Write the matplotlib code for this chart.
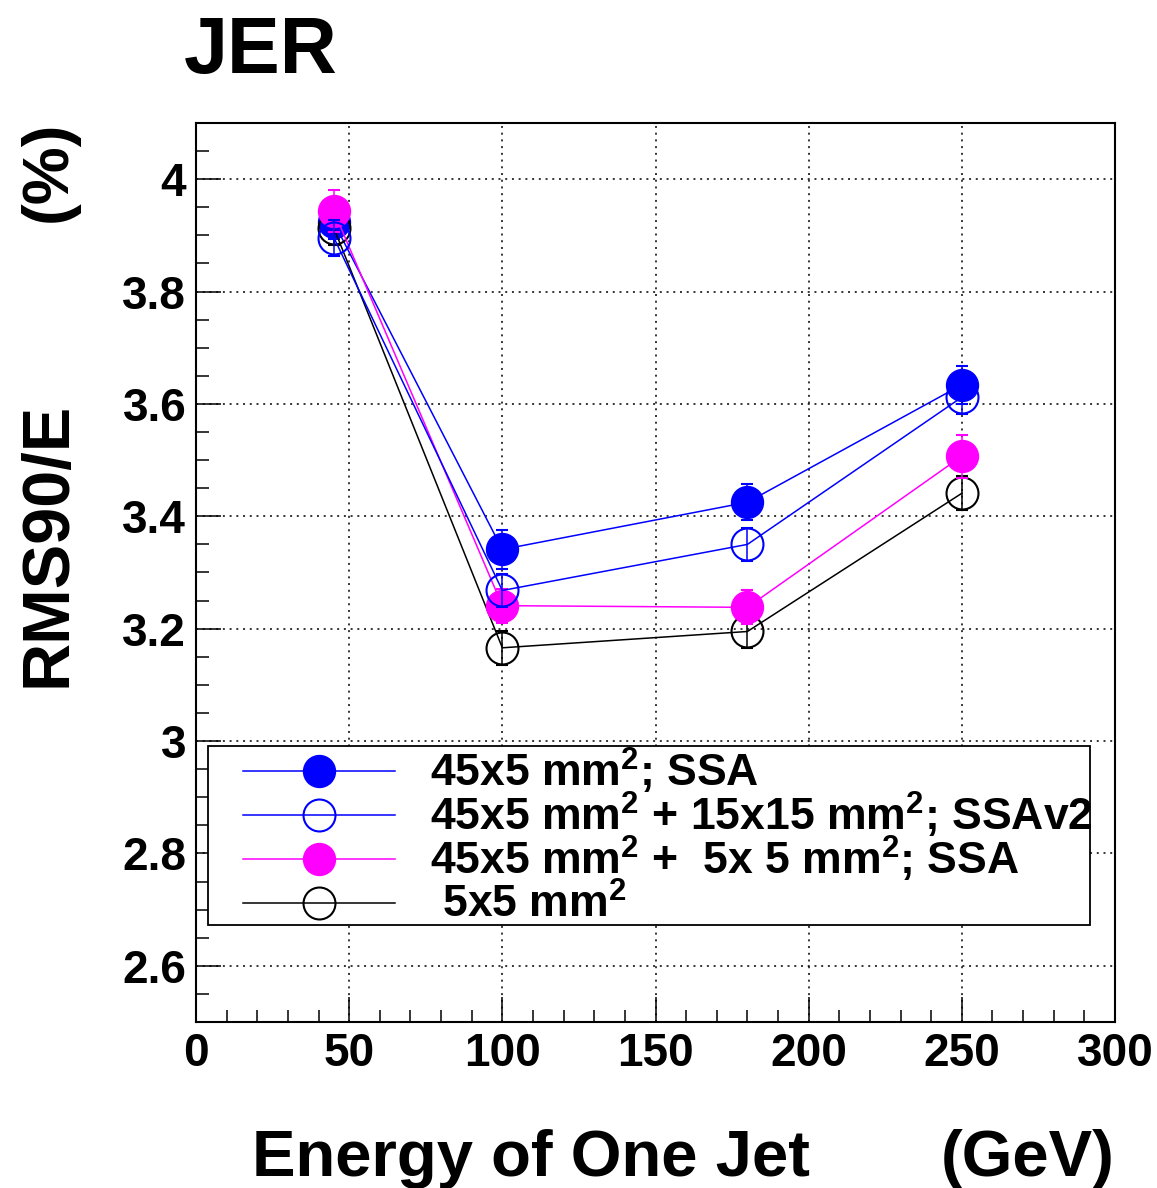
import matplotlib
matplotlib.use("Agg")
import matplotlib.pyplot as plt
from matplotlib.patches import Rectangle
from matplotlib.ticker import MultipleLocator

plt.rcParams['font.family'] = ['Liberation Sans', 'DejaVu Sans']
plt.rcParams['font.weight'] = 'bold'
plt.rcParams['mathtext.fontset'] = 'custom'
plt.rcParams['mathtext.rm'] = 'Liberation Sans:bold'
plt.rcParams['mathtext.bf'] = 'Liberation Sans:bold'
plt.rcParams['mathtext.it'] = 'Liberation Sans:bold'
plt.rcParams['mathtext.default'] = 'bf'

# ---- data ----
energy = [45, 100, 180, 250]
ssa_45x5 = [3.923, 3.341, 3.425, 3.634]
ssa_45x5_err = [0.030, 0.034, 0.032, 0.034]
ssav2_45x5_15x15 = [3.896, 3.268, 3.350, 3.612]
ssav2_45x5_15x15_err = [0.032, 0.030, 0.030, 0.030]
ssa_45x5_5x5 = [3.943, 3.241, 3.238, 3.507]
ssa_45x5_5x5_err = [0.037, 0.030, 0.030, 0.038]
cell_5x5 = [3.913, 3.166, 3.195, 3.441]
cell_5x5_err = [0.030, 0.030, 0.030, 0.030]

labels = [r"45x5 mm$^{2}$; SSA",
          r"45x5 mm$^{2}$ + 15x15 mm$^{2}$; SSAv2",
          r"45x5 mm$^{2}$ +  5x 5 mm$^{2}$; SSA",
          r" 5x5 mm$^{2}$"]

x_ticks = [0, 50, 100, 150, 200, 250, 300]
x_tick_labels = ['0', '50', '100', '150', '200', '250', '300']
y_ticks = [2.6, 2.8, 3.0, 3.2, 3.4, 3.6, 3.8, 4.0]
y_tick_labels = ['2.6', '2.8', '3', '3.2', '3.4', '3.6', '3.8', '4']

W, H = 1157, 1188
fig = plt.figure(figsize=(W / 100, H / 100), dpi=100)
ax = fig.add_axes([196 / W, 1 - 1022 / H, 919 / W, 899 / H])

BLUE = (0, 0, 1)
MAG = (1, 0, 1)
BLK = (0, 0, 0)
ms = 23
lw = 1.1

series = [
    (ssa_45x5, ssa_45x5_err, BLUE, True, labels[0]),
    (cell_5x5, cell_5x5_err, BLK, False, labels[3]),
    (ssa_45x5_5x5, ssa_45x5_5x5_err, MAG, True, labels[2]),
    (ssav2_45x5_15x15, ssav2_45x5_15x15_err, BLUE, False, labels[1]),
]
handles = {}
for i, (vals, errs, col, filled, lab) in enumerate(series):
    z = 3 + i
    ax.errorbar(energy, vals, yerr=errs, fmt='none', ecolor=col,
                elinewidth=lw, capsize=4, capthick=1.5, zorder=z)
    ln, = ax.plot(energy, vals, color=col, lw=lw, marker='o', ms=ms,
                  mfc=col if filled else 'none', mec=col,
                  mew=1.0 if filled else 1.5, zorder=z, label=lab)
    handles[lab] = ln

ax.set_xlim(0, 300)
ax.set_ylim(2.5, 4.1)
ax.set_xticks(x_ticks)
ax.set_xticklabels(x_tick_labels)
ax.set_yticks(y_ticks)
ax.set_yticklabels(y_tick_labels)
ax.xaxis.set_minor_locator(MultipleLocator(10))
ax.yaxis.set_minor_locator(MultipleLocator(0.05))
ax.tick_params(which='both', direction='in', top=False, right=False,
               width=1.1, colors='black')
ax.tick_params(which='major', length=18, labelsize=33, pad=7)
ax.tick_params(which='minor', length=9)
for lab in ax.get_xticklabels() + ax.get_yticklabels():
    lab.set_fontweight('bold')
for sp in ax.spines.values():
    sp.set_linewidth(1.5)

ax.set_axisbelow(True)
ax.grid(True, which='major', color='black', linestyle=(0, (1.3, 3.1)),
        linewidth=1.1)

# legend box
ax.add_patch(Rectangle(((208 - 196) / 919, (1022 - 925) / 899),
                       (1090 - 208) / 919, (925 - 746) / 899,
                       transform=ax.transAxes, facecolor='white',
                       edgecolor='black', linewidth=1.3, zorder=10))
row_tops = [746, 790, 834, 884]
legs = []
for lab, top in zip(labels, row_tops):
    leg = ax.legend([handles[lab]], [lab],
                    loc='upper left',
                    bbox_to_anchor=((243 - 196) / 919, (1022 - top) / 899),
                    borderaxespad=0, borderpad=0, frameon=False,
                    fontsize=32, handlelength=3.42, handletextpad=0.79,
                    numpoints=1)
    leg.set_zorder(11)
    legs.append(leg)
for leg in legs[:-1]:
    ax.add_artist(leg)

fig.text(184 / W, 1 - 73 / H, 'JER', fontsize=57, fontweight='bold',
         ha='left', va='baseline')
fig.text(66 / W, 1 - 687 / H, 'RMS90/E', fontsize=48, fontweight='bold',
         rotation=90, rotation_mode='anchor', ha='left', va='baseline')
fig.text(66 / W, 1 - 120 / H, '(%)', fontsize=47, fontweight='bold',
         rotation=90, rotation_mode='anchor', ha='right', va='baseline')
fig.text(252 / W, 1 - 1176 / H, 'Energy of One Jet', fontsize=47,
         fontweight='bold', ha='left', va='baseline')
fig.text(1115 / W, 1 - 1176 / H, '(GeV)', fontsize=47,
         fontweight='bold', ha='right', va='baseline')

fig.savefig('out.png', dpi=100)
